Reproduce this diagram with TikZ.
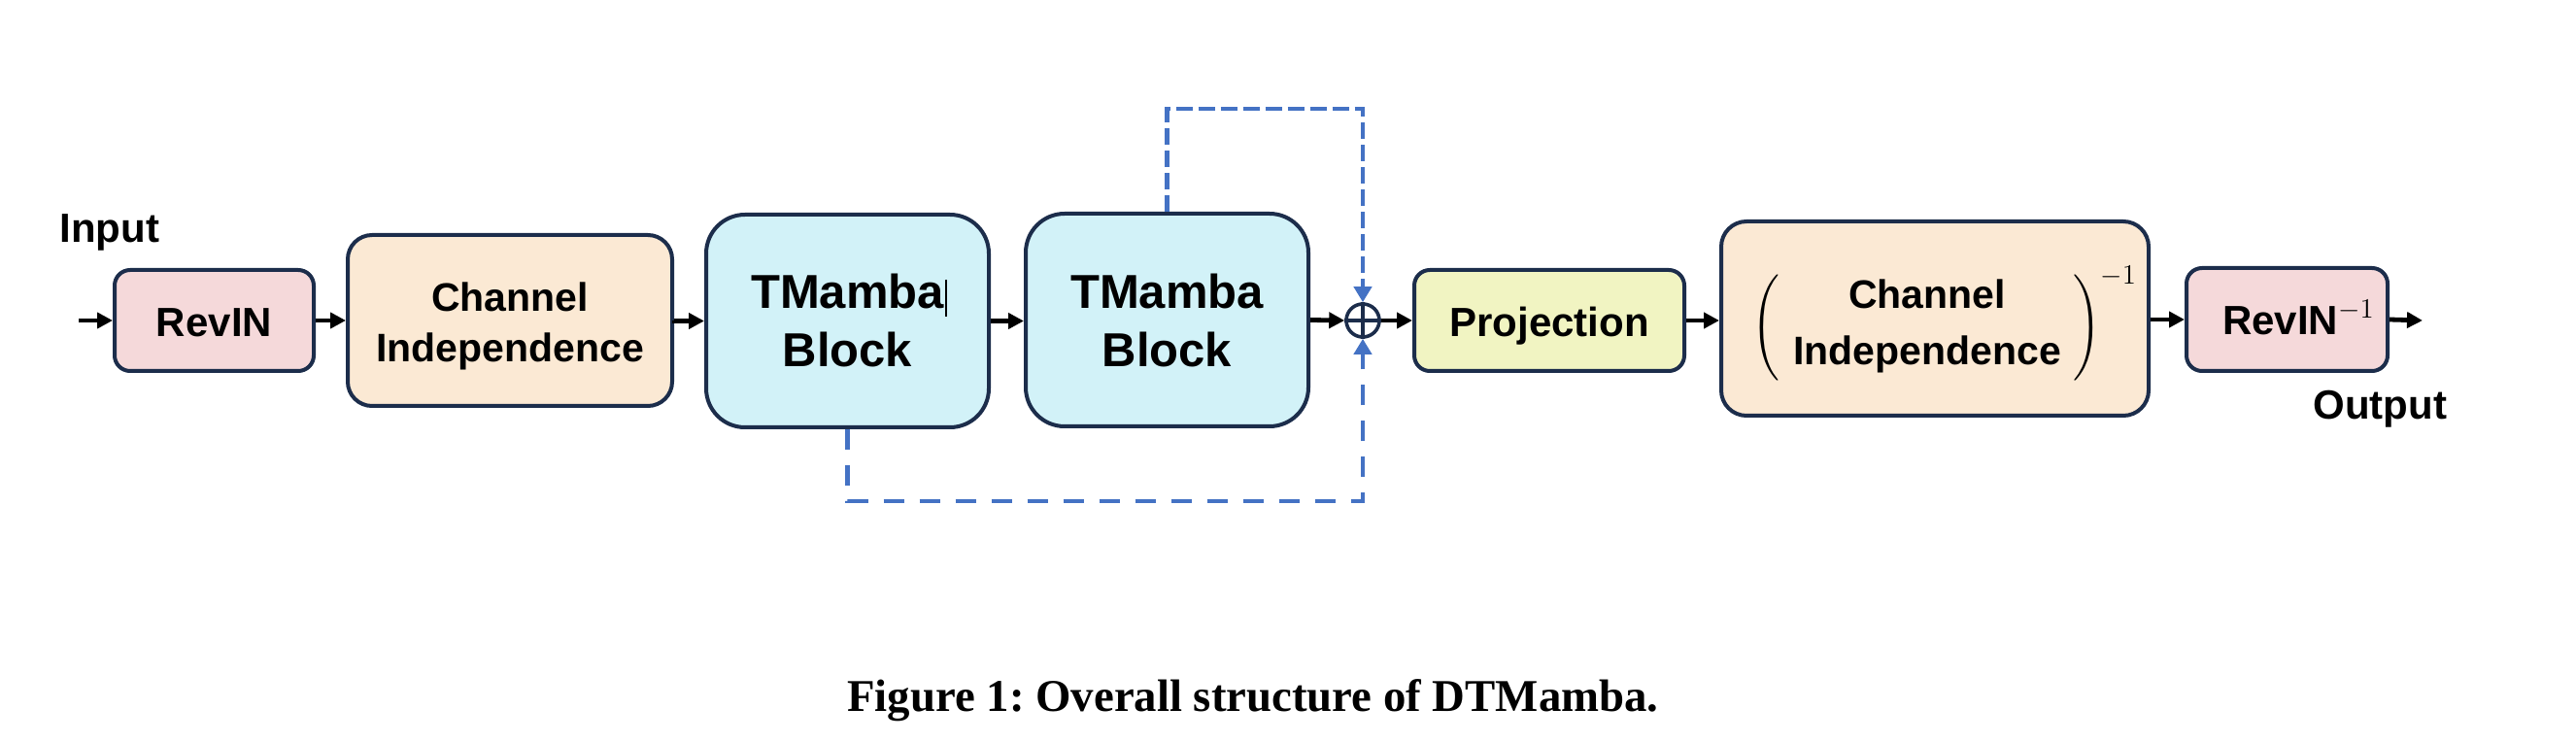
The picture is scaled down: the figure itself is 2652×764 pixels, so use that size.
\documentclass[tikz,border=0pt]{standalone}
\usepackage{fontspec}
\setmainfont{Liberation Sans}
\newfontfamily\capfont{Liberation Serif}
\usepackage{graphicx}
\usetikzlibrary{arrows.meta}
\definecolor{bordc}{HTML}{1C2D4B}
\definecolor{pinkc}{HTML}{F5D9DA}
\definecolor{peachc}{HTML}{FBE9D4}
\definecolor{cyanc}{HTML}{D2F2F8}
\definecolor{yelc}{HTML}{F1F4C2}
\definecolor{dblue}{HTML}{4472C4}
\newcommand{\lbl}[2]{\raisebox{#1}[0pt][0pt]{\begin{tabular}[t]{@{}c@{}}#2\end{tabular}}}
\tikzset{
  box/.style={draw=bordc, line width=2pt, inner sep=0pt},
  arr/.style={line width=2.4pt, -{Triangle[length=8pt,width=8pt]}},
  skipA/.style={draw=dblue, line width=2.4pt, dash pattern=on 8.5pt off 3pt, -{Triangle[length=8pt,width=9pt]}},
  skipB/.style={draw=dblue, line width=2.4pt, dash pattern=on 10.5pt off 8pt, -{Triangle[length=8pt,width=9pt]}},
  plain/.style={inner sep=0pt}
}
\begin{document}
\frenchspacing
\begin{tikzpicture}[x=0.5pt,y=-0.5pt]
\useasboundingbox (0,0) rectangle (2652,764);

% boxes
\node[box, fill=pinkc, rounded corners=8pt, minimum width=102.5pt, minimum height=52pt,
      font=\fontsize{21pt}{26pt}\selectfont\bfseries] (revin) at (220.5,330) {\lbl{-8.5pt}{RevIN}};
\node[box, fill=peachc, rounded corners=12.5pt, minimum width=167pt, minimum height=88pt,
      font=\fontsize{20.5pt}{26pt}\selectfont\bfseries] (ci1) at (525,330) {\lbl{4.5pt}{Channel\\Independence}};
\node[box, fill=cyanc, rounded corners=20pt, minimum width=145.5pt, minimum height=109.5pt,
      font=\fontsize{24.5pt}{30pt}\selectfont\bfseries] (tm1) at (872.5,330.5) {\lbl{6.25pt}{TMamba\\Block}};
\node[box, fill=cyanc, rounded corners=20pt, minimum width=145.5pt, minimum height=109.5pt,
      font=\fontsize{24.5pt}{30pt}\selectfont\bfseries] (tm2) at (1201.5,329.5) {\lbl{5.75pt}{TMamba\\Block}};
\node[circle, draw=bordc, line width=1.8pt, fill=white, minimum size=17pt, inner sep=0pt] (sum) at (1403,330) {};
\node[box, fill=yelc, rounded corners=8pt, minimum width=139pt, minimum height=52pt,
      font=\fontsize{21pt}{26pt}\selectfont\bfseries] (proj) at (1595,330) {\lbl{-8.5pt}{Projection}};
\node[box, fill=peachc, rounded corners=13pt, minimum width=220pt, minimum height=100pt,
      font=\fontsize{20.5pt}{29pt}\selectfont\bfseries] (ci2) at (1992,328) {\lbl{5pt}{Channel\\Independence}\kern8pt};
\node[plain, font=\fontsize{10pt}{12pt}\selectfont] (parl) at (1817.5,337.5) {\resizebox*{!}{54.5pt}{$\Biggl($}};
\node[plain, font=\fontsize{10pt}{12pt}\selectfont] (parr) at (2149,337.5) {\resizebox*{!}{54.5pt}{$\Biggr)$}};
\node[plain, anchor=base west, font=\fontsize{15.5pt}{16pt}\selectfont] (ci2sup) at (2162,293) {$-1$};
\node[box, fill=pinkc, rounded corners=8pt, minimum width=103.5pt, minimum height=53pt,
      font=\fontsize{21pt}{26pt}\selectfont\bfseries] (revin2) at (2354.5,329)
      {\raisebox{-8pt}[0pt][0pt]{\hspace*{11.5pt}RevIN\raisebox{8.5pt}{\fontsize{15.5pt}{16pt}\selectfont$-1$}}};

% sum symbol cross
\draw[bordc, line width=1.8pt] (sum.north) -- (sum.south) (sum.west) -- (sum.east);

% cursor mark
\draw[line width=0.6pt] (974,288) -- (974,326);

% labels
\node[plain, anchor=base west, font=\fontsize{21pt}{26pt}\selectfont\bfseries] (inlbl) at (61,250) {Input};
\node[plain, anchor=base west, font=\fontsize{21pt}{26pt}\selectfont\bfseries] (outlbl) at (2381,432) {Output};
\node[plain, anchor=base, font=\fontsize{23.4pt}{28pt}\selectfont\capfont\bfseries] (cap) at (1290,732) {Figure 1: Overall structure of DTMamba.};

\coordinate (inS) at (81,330);
\coordinate (outE) at (2494,330);

% arrows
\draw[arr] (inS) -- (revin.west);
\draw[arr] (revin.east) -- (ci1.west);
\draw[arr] (ci1.east) -- (tm1.west -| ci1.east) -- (tm1.west);
\draw[arr] (tm1.east) -- (tm2.west |- tm1.east);
\draw[arr] (tm2.east) -- (sum.west);
\draw[arr] (sum.east) -- (proj.west);
\draw[arr] (proj.east) -- (ci2.west |- proj.east);
\draw[arr] (ci2.east |- revin2.west) -- (revin2.west);
\draw[arr] (revin2.east) -- (outE);

% skip connections
\draw[skipA] (tm2.north) -- ++(0,-106) -| (sum.north);
\draw[skipB] (tm1.south) -- ++(0,74) -| (sum.south);
\end{tikzpicture}
\end{document}
